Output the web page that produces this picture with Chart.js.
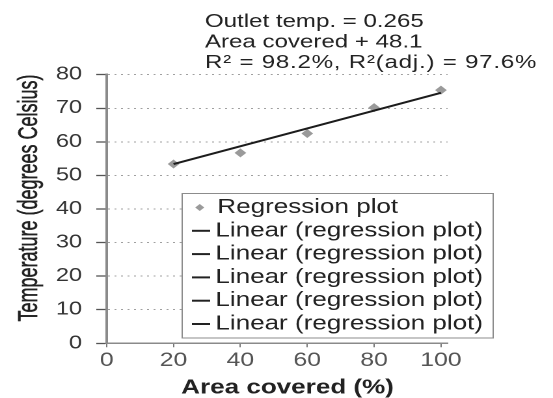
<!DOCTYPE html>
<html>
<head>
<meta charset="utf-8">
<script src="https://cdn.jsdelivr.net/npm/chart.js@4"></script>
<style>
  html, body { margin: 0; padding: 0; background: #fff; overflow: hidden; }
  /* drawn narrow, then widened to the full window */
  #wrap { position: absolute; left: 0; top: 0; width: 425px; height: 398px;
          transform: scaleX(1.3012); transform-origin: 0 0; }
</style>
</head>
<body>
<div id="wrap"><canvas id="c"></canvas></div>
<script>
// Measured outlet temperature against covered area
const areaCovered = [20, 40, 60, 80, 100];
const outletTemp = [53.4, 56.7, 62.5, 70.2, 75.4];

// Fitted line and its statistics
const fitSlope = 0.265;
const fitIntercept = 48.1;
const rSquared = '98.2%';
const rSquaredAdj = '97.6%';

// Axis ticks and text
const xTicks = [0, 20, 40, 60, 80, 100];
const yTicks = [0, 10, 20, 30, 40, 50, 60, 70, 80];
const xTitle = 'Area covered (%)';
const yTitle = 'Temperature (degrees Celsius)';
const legendLabels = [
  'Regression plot',
  'Linear (regression plot)',
  'Linear (regression plot)',
  'Linear (regression plot)',
  'Linear (regression plot)',
  'Linear (regression plot)'
];

const FONT = "'Liberation Sans', Arial, sans-serif";

const points = areaCovered.map((x, i) => ({ x, y: outletTemp[i] }));
const xFirst = areaCovered[0];
const xLast = areaCovered[areaCovered.length - 1];
const trend = [
  { x: xFirst, y: fitIntercept + fitSlope * xFirst },
  { x: xLast, y: fitIntercept + fitSlope * xLast }
];

const equationLines = [
  'Outlet temp. = ' + fitSlope,
  'Area covered + ' + fitIntercept,
  'R\u00B2 = ' + rSquared + ', R\u00B2(adj.) = ' + rSquaredAdj
];
const equationSpacing = ['0px', '0px', '0.6px'];

// Equation, axis titles and the boxed key
const decor = {
  id: 'decor',
  afterDraw(chart) {
    const ctx = chart.ctx;
    ctx.save();

    // regression equation above the plot
    ctx.fillStyle = '#222';
    ctx.font = '18.5px ' + FONT;
    ctx.textAlign = 'left';
    ctx.textBaseline = 'alphabetic';
    equationLines.forEach((t, i) => {
      ctx.letterSpacing = equationSpacing[i];
      ctx.fillText(t, 157.5, 27 + i * 20.5);
    });
    ctx.letterSpacing = '0px';

    // axis titles
    ctx.font = 'bold 20px ' + FONT;
    ctx.textAlign = 'center';
    ctx.textBaseline = 'middle';
    ctx.fillText(xTitle, 221, 388);

    ctx.save();
    ctx.translate(22.5, 198);
    ctx.rotate(-Math.PI / 2);
    ctx.scale(1, 1.2);
    ctx.font = '18px ' + FONT;
    ctx.strokeStyle = '#222';
    ctx.lineWidth = 0.35;
    ctx.fillText(yTitle, 0, 0);
    ctx.strokeText(yTitle, 0, 0);
    ctx.restore();

    // key box
    const bx = 140, by = 193.5, bw = 239, bh = 144.5;
    ctx.fillStyle = '#fff';
    ctx.fillRect(bx, by, bw, bh);
    ctx.strokeStyle = '#8c8c8c';
    ctx.lineWidth = 1;
    ctx.strokeRect(bx, by, bw, bh);

    ctx.font = '20px ' + FONT;
    ctx.textAlign = 'left';
    ctx.textBaseline = 'middle';
    legendLabels.forEach((label, i) => {
      const cy = 207.5 + i * 23.3;
      if (i === 0) {
        ctx.fillStyle = '#9a9a9a';
        ctx.beginPath();
        ctx.moveTo(153.5, cy - 3.5);
        ctx.lineTo(157, cy);
        ctx.lineTo(153.5, cy + 3.5);
        ctx.lineTo(150, cy);
        ctx.closePath();
        ctx.fill();
      } else {
        ctx.strokeStyle = '#222';
        ctx.lineWidth = 2;
        ctx.beginPath();
        ctx.moveTo(147.5, cy);
        ctx.lineTo(161.5, cy);
        ctx.stroke();
      }
      ctx.fillStyle = '#222';
      ctx.fillText(label, i === 0 ? 167 : 165.5, cy);
    });

    ctx.restore();
  }
};

new Chart(document.getElementById('c'), {
  type: 'scatter',
  data: {
    datasets: [
      {
        label: 'Linear (regression plot)',
        type: 'line',
        data: trend,
        borderColor: '#1c1c1c',
        borderWidth: 2,
        pointRadius: 0,
        fill: false,
        order: 0
      },
      {
        label: 'Regression plot',
        data: points,
        pointStyle: 'rectRot',
        pointRadius: 4.5,
        backgroundColor: '#9a9a9a',
        borderColor: '#9a9a9a',
        borderWidth: 0,
        order: 1
      }
    ]
  },
  options: {
    responsive: true,
    maintainAspectRatio: false,
    animation: false,
    devicePixelRatio: 2,
    layout: { padding: { top: 74.7, right: 81, left: 0, bottom: 0 } },
    plugins: {
      legend: { display: false },
      tooltip: { enabled: false }
    },
    scales: {
      x: {
        type: 'linear',
        min: 0,
        max: 102,
        afterBuildTicks: s => { s.ticks = xTicks.map(v => ({ value: v })); },
        afterFit: s => { s.height = 54.7; },
        grid: { drawOnChartArea: false, tickLength: 4, tickColor: '#777', tickWidth: 1 },
        border: { color: '#8a8a8a', width: 1.5 },
        ticks: { font: { family: FONT, size: 19 }, color: '#555', padding: 2, maxRotation: 0 }
      },
      y: {
        type: 'linear',
        min: 0,
        max: 80,
        afterBuildTicks: s => { s.ticks = yTicks.map(v => ({ value: v })); },
        afterFit: s => { s.width = 82; },
        grid: { color: '#a0a0a0', lineWidth: 1, tickLength: 8, tickColor: '#555',
                tickWidth: 1.3, tickBorderDash: [] },
        border: { color: '#8a8a8a', width: 2, dash: [1.5, 3.5] },
        ticks: { font: { family: FONT, size: 18 }, color: '#333', padding: 11 }
      }
    }
  },
  plugins: [decor]
});
</script>
</body>
</html>
